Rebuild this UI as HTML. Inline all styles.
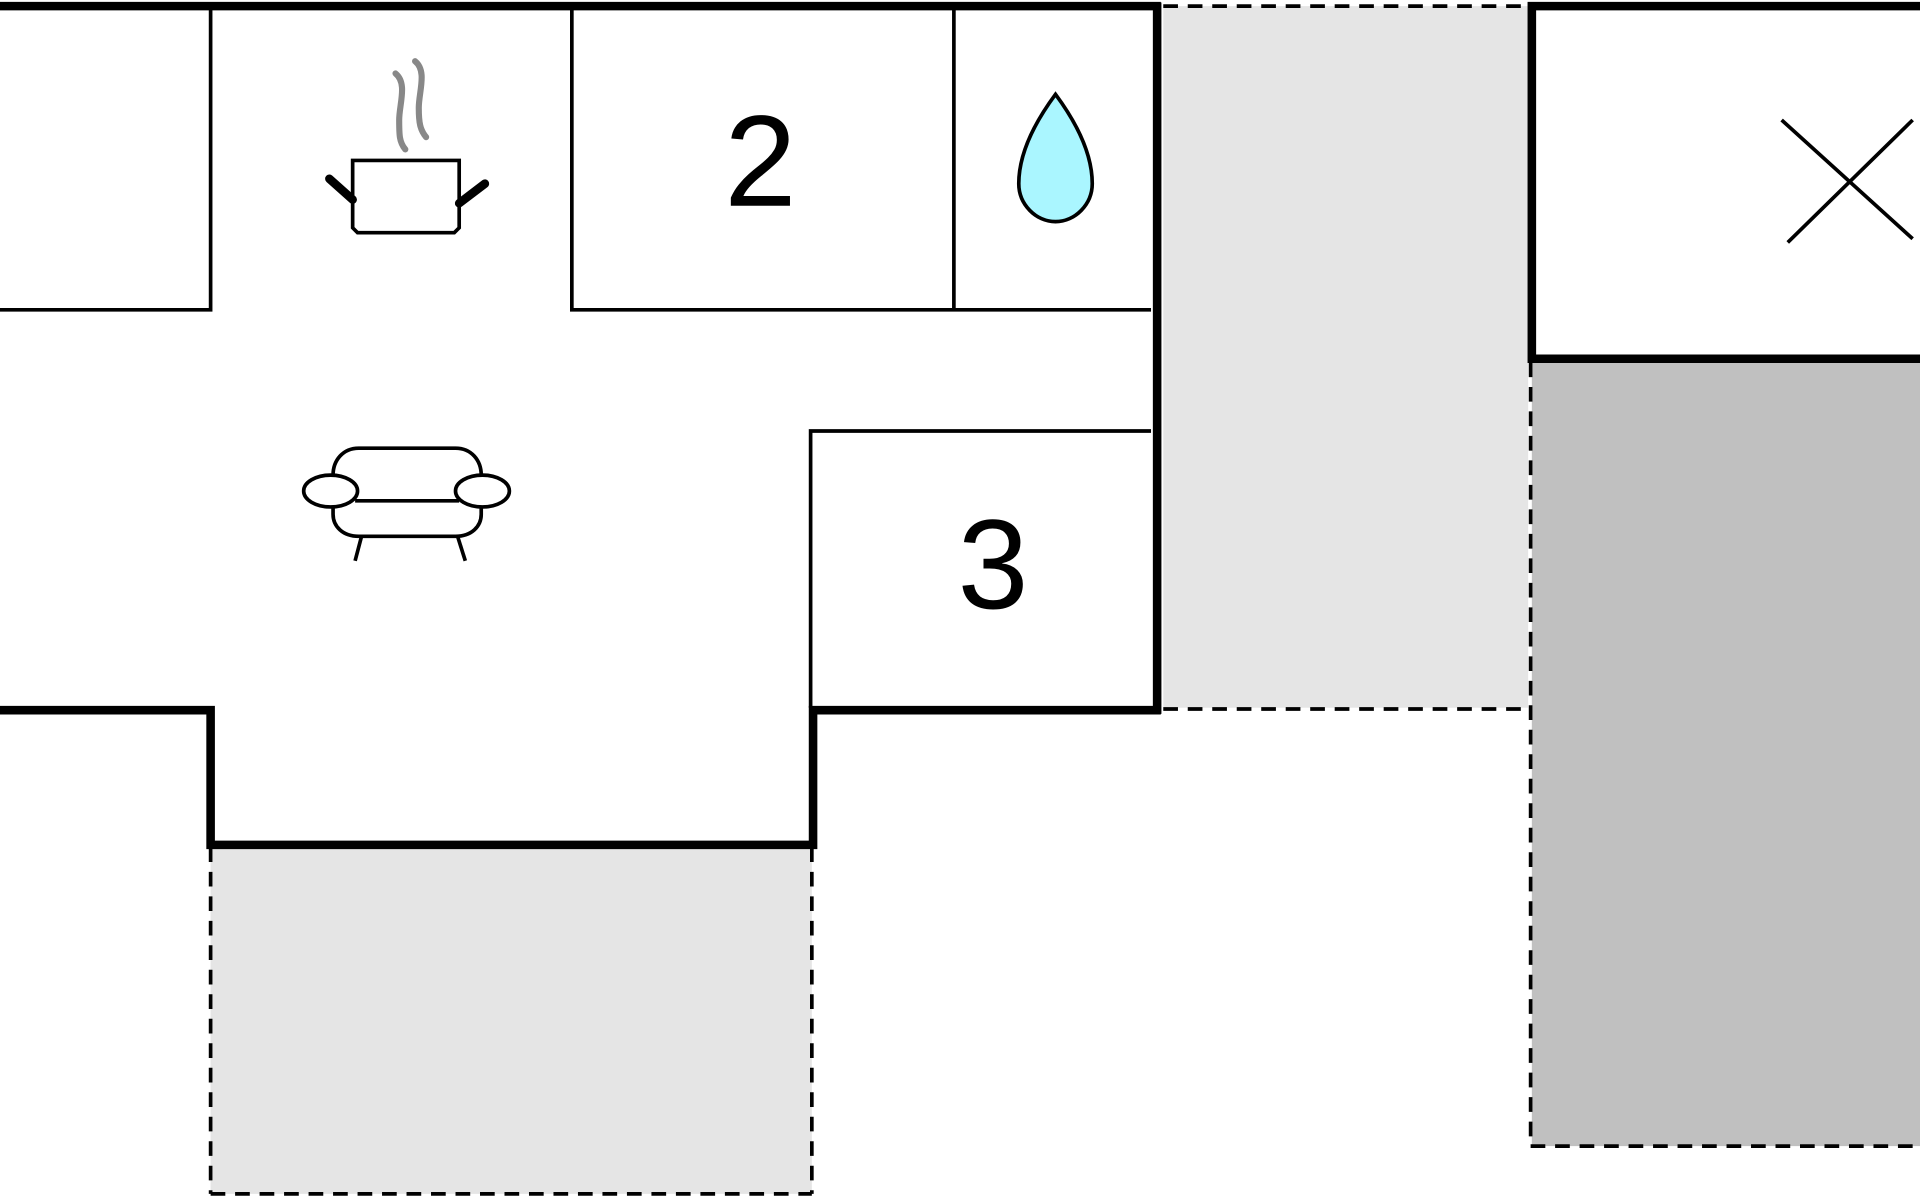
<!DOCTYPE html>
<html><head><style>html,body{margin:0;padding:0;background:#fff;}svg{display:block}</style></head>
<body>
<svg width="1920" height="1200" viewBox="0 0 1568 980" xmlns="http://www.w3.org/2000/svg">
<rect width="1568" height="980" fill="#fff"/>
<rect x="950" y="5" width="298" height="573" fill="#e5e5e5"/>
<rect x="1251" y="296" width="317" height="640" fill="#c0c0c0"/>
<rect x="172" y="692" width="491" height="283" fill="#e5e5e5"/>
<g stroke="#000" stroke-width="3" stroke-dasharray="12,8" fill="none">
<line x1="950" y1="5" x2="1248" y2="5"/>
<line x1="950" y1="579" x2="1248" y2="579"/>
<line x1="1250" y1="296" x2="1250" y2="936"/>
<line x1="1250" y1="936" x2="1568" y2="936"/>
<line x1="172" y1="692" x2="172" y2="975"/>
<line x1="663" y1="692" x2="663" y2="975"/>
<line x1="172" y1="975" x2="663" y2="975"/>
</g>
<g stroke="#000" stroke-width="3" fill="none">
<polyline points="172,5 172,253 0,253"/>
<polyline points="467,5 467,253 940,253"/>
<line x1="779" y1="5" x2="779" y2="253"/>
<polyline points="662,578 662,352 940,352"/>
</g>
<g stroke="#000" stroke-width="7" fill="none">
<line x1="0" y1="5" x2="948" y2="5"/>
<line x1="945" y1="2" x2="945" y2="583"/>
<polyline points="0,580 172,580 172,690 664,690 664,580 948,580"/>
<polyline points="1568,5 1251,5 1251,293 1568,293"/>
</g>
<text x="621" y="168" font-family="Liberation Sans, sans-serif" font-size="106" text-anchor="middle">2</text>
<text x="811" y="501" font-family="Liberation Sans, sans-serif" font-size="104" text-anchor="middle" transform="translate(0,-4)">3</text>
<path d="M862,77 C845,100 832,125 832,150 C832,167 846,181 862,181 C878,181 892,167 892,150 C892,125 879,100 862,77 Z" fill="#aaf6ff" stroke="#000" stroke-width="3"/>
<g stroke="#000" stroke-width="3"><line x1="1455" y1="98" x2="1562" y2="195"/><line x1="1460" y1="198" x2="1562" y2="98"/></g>
<g fill="none">
<path d="M323,60 C333,68 326,85 326,98 C326,110 326,116 331,122" stroke="#888" stroke-width="5" stroke-linecap="round"/>
<path d="M339,50 C349,58 342,75 342,88 C342,100 343,106 348,112" stroke="#888" stroke-width="5" stroke-linecap="round"/>
<path d="M288,131 L375,131 L375,186 L371,190 L292,190 L288,186 Z" stroke="#000" stroke-width="3" fill="#fff"/>
<line x1="269" y1="146" x2="288" y2="163" stroke="#000" stroke-width="7" stroke-linecap="round"/>
<line x1="396" y1="150" x2="375" y2="166" stroke="#000" stroke-width="7" stroke-linecap="round"/>
</g>
<g stroke="#000" stroke-width="3" fill="#fff">
<path d="M293,366 L372,366 C385,366 393,376 393,388 L393,420 C393,430 385,438 372,438 L293,438 C280,438 272,430 272,420 L272,388 C272,376 280,366 293,366 Z"/>
<line x1="290" y1="409" x2="375" y2="409"/>
<ellipse cx="270" cy="401" rx="22" ry="13"/>
<ellipse cx="394" cy="401" rx="22" ry="13"/>
<line x1="295" y1="439" x2="290" y2="458"/>
<line x1="374" y1="439" x2="380" y2="458"/>
</g>
</svg>
</body></html>
